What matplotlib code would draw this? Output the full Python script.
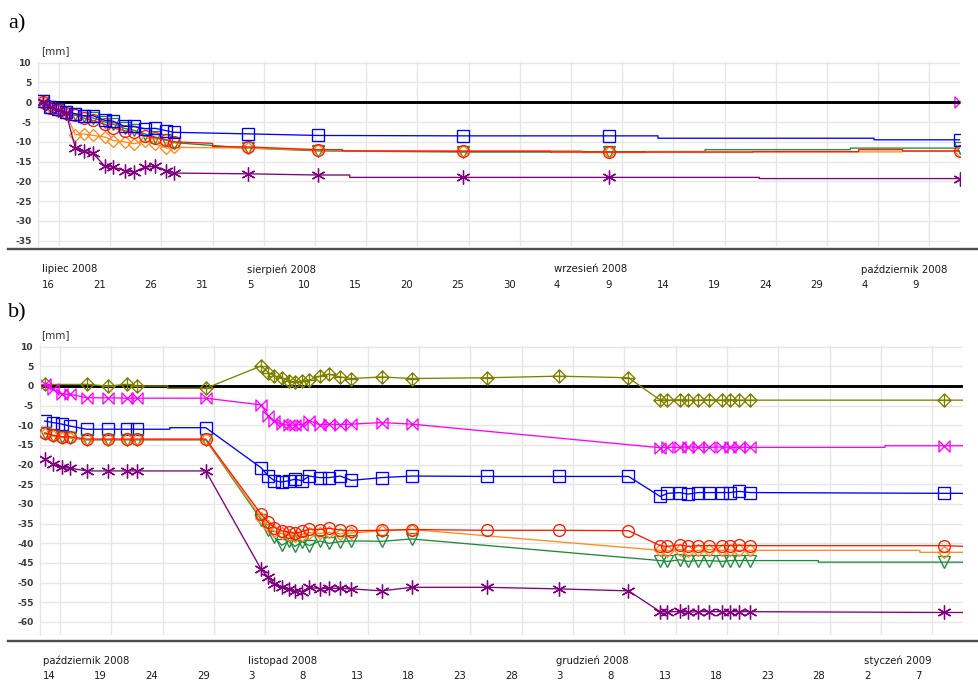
import numpy as np
import matplotlib
matplotlib.use("Agg")
import matplotlib.pyplot as plt
from matplotlib.path import Path
from matplotlib.lines import Line2D
import matplotlib.transforms as mtransforms

nan = np.nan

# ---------------- Panel a (day 0 = 16 July 2008) ----------------
a_days = [-1.6, -0.9, -0.1, 0.7, 1.6, 2.4, 3.3, 4.5, 5.3, 6.4, 7.3, 8.4, 9.4, 10.5,
          11.2, 18.5, 25.3, 39.5, 53.7, 88.0]
a_blue = [0.4, -1.1, -1.8, -2.5, -2.9, -3.4, -3.4, -4.6, -4.8, -6.1, -6.1, -6.7, -6.6, -7.2,
          -7.6, -8.0, -8.4, -8.5, -8.5, -9.5]
a_red = [0.0, -1.5, -2.0, -2.8, -3.3, -4.0, -4.6, -5.6, -6.5, -7.2, -7.6, -8.5, -9.0, -9.6,
         -10.0, -11.3, -12.0, -12.4, -12.6, -12.3]
a_green = [0.2, -1.2, -1.9, -2.5, -3.0, -3.5, -4.0, -5.0, -5.6, -6.6, -7.1, -8.0, -8.8, -9.5,
           -10.2, -11.6, -12.3, -12.6, -12.5, -11.6]
a_orange = [-0.2, -1.2, -2.0, -3.0, -8.2, -8.0, -8.4, -8.8, -9.7, -10.0, -10.5, -9.8, -10.5, -11.6,
            -11.4, -11.6, -12.1, -12.3, -12.7, -12.4]
a_purple = [0.0, -1.3, -2.0, -2.8, -11.6, -12.4, -12.9, -16.2, -16.4, -17.3, -17.7, -16.4, -16.2, -17.3,
            -17.9, -18.1, -18.4, -19.0, -19.0, -19.3]
a_magenta = [0.0, nan, nan, nan, nan, nan, nan, nan, nan, nan, nan, nan, nan, nan,
             nan, nan, nan, nan, nan, 0.0]

# line-only (unmarked) readings of the continuous record
a_blue_line = ([58.5, 58.5, 79.6, 79.6], [-8.5, -9.1, -9.1, -9.5])
a_red_line = ([15.0, 15.0, 27.7, 27.7, 48.0, 48.0, 67.8, 67.8, 78.1, 78.1, 82.4, 82.4],
              [-10.4, -11.2, -12.0, -12.3, -12.4, -12.6, -12.6, -12.5, -12.5, -12.0, -12.0, -12.3])
a_green_line = ([48.1, 48.1, 63.1, 63.1, 77.3, 77.3], [-12.6, -12.45, -12.45, -12.0, -12.0, -11.6])
a_orange_line = ([27.7, 27.7, 51.1, 51.1, 57.4, 57.4, 82.4, 82.4],
                 [-12.1, -12.3, -12.3, -12.7, -12.7, -12.55, -12.55, -12.4])
a_purple_line = ([28.4, 28.4, 68.4, 68.4], [-18.4, -19.0, -19.0, -19.3])
a_magenta_line = ([], [])

a_day_labels = ['16', '21', '26', '31', '5', '10', '15', '20', '25', '30',
                '4', '9', '14', '19', '24', '29', '4', '9']
a_month_labels = ['lipiec 2008', 'sierpień 2008', 'wrzesień 2008', 'październik 2008']
a_month_start = [0, 4, 10, 16]

# ---------------- Panel b (day 0 = 14 October 2008) ----------------
b_days = [-1.5, -0.7, 0.2, 1.0, 2.6, 4.7, 6.5, 7.5, 14.2,
          19.6, 20.3, 20.9, 21.6, 22.3, 22.9, 23.6, 24.3, 25.3, 26.2, 27.3, 28.4,
          31.35, 34.3, 41.6, 48.6, 55.4,
          58.5, 59.2, 60.4, 61.2, 62.2, 63.2, 64.5, 65.3, 66.2, 67.25, 86.1]
b_olive = [0.4, nan, nan, nan, 0.4, 0.0, 0.4, 0.0, -0.6,
           5.1, 3.4, 2.6, 2.1, 1.3, 0.9, 1.3, 1.5, 2.5, 3.0, 2.3, 1.9,
           2.3, 1.9, 2.1, 2.5, 2.1,
           -3.6, -3.6, -3.5, -3.6, -3.6, -3.5, -3.6, -3.5, -3.6, -3.6, -3.6]
b_magenta = [0.4, -0.85, -2.1, -2.1, -3.0, -3.0, -3.1, -3.1, -3.1,
             -4.8, -7.6, -9.0, -9.7, -10.0, -9.9, -9.8, -8.8, -9.9, -9.7, -9.8, -9.7,
             -9.3, -9.7, nan, nan, nan,
             -15.7, -15.6, -15.6, -15.5, -15.6, -15.6, -15.5, -15.6, -15.6, -15.6, -15.2]
b_blue = [-8.9, -9.3, -9.7, -10.2, -11.0, -11.0, -11.0, -11.0, -10.6,
          -20.8, -22.9, -24.1, -24.4, -24.1, -23.7, -24.1, -22.9, -23.3, -23.3, -22.9, -24.0,
          -23.3, -22.9, -23.0, -23.0, -23.0,
          -28.1, -27.3, -27.1, -27.5, -27.1, -27.1, -27.1, -27.1, -26.8, -27.1, -27.3]
b_red = [-11.9, -12.5, -12.9, -12.9, -13.5, -13.5, -13.5, -13.5, -13.5,
         -32.6, -34.7, -36.0, -36.8, -37.2, -37.5, -37.0, -36.4, -36.5, -36.2, -36.6, -36.8,
         -36.7, -36.5, -36.7, -36.7, -36.8,
         -40.6, -40.8, -40.4, -40.8, -40.6, -40.6, -40.6, -40.6, -40.5, -40.6, -40.6]
b_orange = [-12.2, -12.8, -13.2, -13.2, -13.6, -13.6, -13.6, -13.6, -13.6,
            -33.5, -35.5, -37.0, -37.5, -38.0, -38.2, -37.8, -37.3, -37.5, -37.2, -37.6, -37.4,
            -36.8, -36.5, nan, nan, nan,
            -41.8, -41.9, -41.6, -41.9, -41.8, -41.6, -41.8, -41.7, -41.8, -41.8, -42.3]
b_green = [-12.0, -12.7, -13.0, -13.2, -13.7, -13.7, -13.7, -13.7, -13.7,
           -34.0, -36.5, -38.5, -40.5, -39.5, -40.8, -39.6, -40.6, -39.4, -40.0, -39.6, -39.4,
           -39.5, -38.9, nan, nan, nan,
           -44.4, -44.6, -44.2, -44.6, -44.4, -44.4, -44.6, -44.4, -44.4, -44.4, -44.8]
b_purple = [-18.6, -19.9, -20.7, -20.9, -21.6, -21.6, -21.6, -21.6, -21.6,
            -46.6, -48.7, -50.4, -51.0, -51.6, -52.1, -52.3, -51.2, -51.6, -51.4, -51.5, -51.6,
            -52.1, -51.2, -51.2, -51.6, -52.1,
            -57.4, -57.5, -57.3, -57.5, -57.4, -57.4, -57.4, -57.4, -57.4, -57.4, -57.6]

b_olive_line = ([10.5, 10.5, 88.5], [0.0, -0.6, -3.6])
b_magenta_line = ([80.4, 80.4, 88.5], [-15.6, -15.2, -15.2])
b_blue_line = ([10.7, 10.7, 88.5], [-11.0, -10.6, -27.3])
b_red_line = ([88.5], [-40.8])
b_orange_line = ([83.8, 83.8, 88.5], [-41.8, -42.3, -42.3])
b_green_line = ([73.9, 73.9, 88.5], [-44.4, -44.8, -44.8])
b_purple_line = ([88.5], [-57.6])

b_day_labels = ['14', '19', '24', '29', '3', '8', '13', '18', '23', '28',
                '3', '8', '13', '18', '23', '28', '2', '7']
b_month_labels = ['październik 2008', 'listopad 2008', 'grudzień 2008', 'styczeń 2009']
b_month_start = [0, 4, 10, 16]

# ---------------- styles ----------------
C_BLUE = '#0000ff'
C_RED = '#ff1a00'
C_GREEN = '#1f8a3c'
C_ORANGE = '#ff8c1a'
C_PURPLE = '#800080'
C_MAGENTA = '#ff00ff'
C_OLIVE = '#808000'

bowtie = Path([(-1, 1), (-1, -1), (1, 1), (1, -1), (-1, 1)],
              [Path.MOVETO, Path.LINETO, Path.LINETO, Path.LINETO, Path.CLOSEPOLY])
diamond_plus = Path([(0, 1), (1, 0), (0, -1), (-1, 0), (0, 1),
                     (0, 1), (0, -1), (-1, 0), (1, 0)],
                    [Path.MOVETO, Path.LINETO, Path.LINETO, Path.LINETO, Path.CLOSEPOLY,
                     Path.MOVETO, Path.LINETO, Path.MOVETO, Path.LINETO])
asterisk = (6, 2, 0)

W, H = 979, 684
fig = plt.figure(figsize=(W / 100, H / 100), dpi=100)


def px_axes(l, t, r, b):
    return fig.add_axes([l / W, 1 - b / H, (r - l) / W, (b - t) / H])


def setup(ax, xlim, ylim, yticks):
    ax.set_xlim(*xlim)
    ax.set_ylim(*ylim)
    ax.set_xticks(np.arange(0, 90, 5))
    ax.set_yticks(yticks)
    ax.set_yticklabels([str(v) for v in yticks], fontsize=6.6, fontweight='bold', color='#3a3a3a')
    ax.tick_params(length=0, labelbottom=False, pad=4.5)
    ax.grid(True, color='#e6e6e6', lw=1.0, zorder=0)
    ax.set_axisbelow(True)
    for s in ['top', 'right', 'bottom']:
        ax.spines[s].set_visible(False)
    ax.spines['left'].set_color('#e6e6e6')
    ax.spines['left'].set_linewidth(1.0)
    ax.set_facecolor('white')
    ax.axhline(0, color='black', lw=2.1, zorder=1.5)


def draw(ax, days, vals, extra, color, marker, ms, z):
    d = np.asarray(days, float)
    v = np.asarray(vals, float)
    ok = ~np.isnan(v)
    ld = np.concatenate([d[ok], np.asarray(extra[0], float)])
    lv = np.concatenate([v[ok], np.asarray(extra[1], float)])
    order = np.argsort(ld, kind='stable')
    ax.plot(ld[order], lv[order], color=color, lw=0.95, zorder=z)
    ax.plot(d[ok], v[ok], ls='none', marker=marker, ms=ms, mfc='none', mec=color,
            mew=0.95, zorder=z + 0.1)


def date_labels(ax, day_labels, month_labels, month_start, y_month, y_day):
    tr = mtransforms.blended_transform_factory(ax.transData, fig.transFigure)
    for i, lab in enumerate(day_labels):
        ax.text(i * 5 - 1.65, 1 - y_day / H, lab, transform=tr, ha='left', va='center',
                fontsize=7.3, color='#1a1a1a', clip_on=False)
    for lab, i in zip(month_labels, month_start):
        ax.text(i * 5 - 1.65, 1 - y_month / H, lab, transform=tr, ha='left', va='center',
                fontsize=7.3, color='#1a1a1a', clip_on=False)


# ---------------- panel a ----------------
axa = px_axes(38, 61.9, 960, 246.2)
setup(axa, (-2.05, 88.0), (-36.4, 10.2), list(range(10, -40, -5)))
draw(axa, a_days, a_magenta, a_magenta_line, C_MAGENTA, bowtie, 8, 1.0)
draw(axa, a_days, a_green, a_green_line, C_GREEN, 'v', 8.5, 2.2)
draw(axa, a_days, a_orange, a_orange_line, C_ORANGE, 'D', 6.5, 2.3)
draw(axa, a_days, a_red, a_red_line, C_RED, 'o', 8.5, 2.4)
draw(axa, a_days, a_blue, a_blue_line, C_BLUE, 's', 8.8, 2.5)
draw(axa, a_days, a_purple, a_purple_line, C_PURPLE, asterisk, 10, 2.6)
date_labels(axa, a_day_labels, a_month_labels, a_month_start, 269.5, 285)

# ---------------- panel b ----------------
axb = px_axes(40, 345.5, 963, 634.5)
setup(axb, (-1.95, 88.0), (-63.2, 10.3), list(range(10, -65, -5)))
draw(axb, b_days, b_olive, b_olive_line, C_OLIVE, diamond_plus, 9.5, 2.0)
draw(axb, b_days, b_magenta, b_magenta_line, C_MAGENTA, bowtie, 8, 2.1)
draw(axb, b_days, b_blue, b_blue_line, C_BLUE, 's', 8.8, 2.2)
draw(axb, b_days, b_green, b_green_line, C_GREEN, 'v', 8.5, 2.3)
draw(axb, b_days, b_orange, b_orange_line, C_ORANGE, 'D', 6.5, 2.4)
draw(axb, b_days, b_red, b_red_line, C_RED, 'o', 8.5, 2.5)
draw(axb, b_days, b_purple, b_purple_line, C_PURPLE, asterisk, 10, 2.6)
date_labels(axb, b_day_labels, b_month_labels, b_month_start, 661, 676)

# ---------------- frame texts and separators ----------------
fig.text(8 / W, 1 - 24 / H, 'a)', fontsize=16, family='Liberation Serif', va='center', ha='left')
fig.text(8 / W, 1 - 313 / H, 'b)', fontsize=16, family='Liberation Serif', va='center', ha='left')
fig.text(41 / W, 1 - 51 / H, '[mm]', fontsize=7.5, color='#333333', va='center', ha='left')
fig.text(41 / W, 1 - 335 / H, '[mm]', fontsize=7.5, color='#333333', va='center', ha='left')
fig.add_artist(Line2D([8 / W, 1.0], [1 - 249.3 / H] * 2, color='#4d4d4d', lw=1.7))
fig.add_artist(Line2D([8 / W, 1.0], [1 - 640.5 / H] * 2, color='#4d4d4d', lw=1.7))

fig.savefig('out.png', dpi=100, facecolor='white')
